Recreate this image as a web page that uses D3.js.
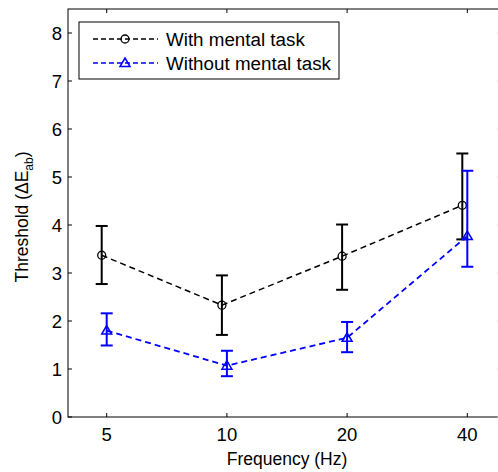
<!DOCTYPE html>
<html>
<head>
<meta charset="utf-8">
<script src="https://cdn.jsdelivr.net/npm/d3@7"></script>
<style>
  body { margin: 0; background: #fff; }
  svg { display: block; font-family: "Liberation Sans", Arial, sans-serif; }
</style>
</head>
<body>
<svg id="chart"></svg>
<script>
const width = 498;
const height = 472;

// data
const freqs = [5, 10, 20, 40];
const withTask = [3.37, 2.33, 3.35, 4.41];
const withLo = [2.77, 1.71, 2.65, 3.70];
const withHi = [3.98, 2.95, 4.01, 5.49];
const withoutTask = [1.80, 1.07, 1.65, 3.77];
const withoutLo = [1.49, 0.85, 1.35, 3.13];
const withoutHi = [2.16, 1.38, 1.98, 5.13];
const yTicks = [0, 1, 2, 3, 4, 5, 6, 7, 8];

const series = [
  { name: "With mental task", mean: withTask, lo: withLo, hi: withHi, color: "#000", marker: "circle", dx: -5, lw: 1.5 },
  { name: "Without mental task", mean: withoutTask, lo: withoutLo, hi: withoutHi, color: "#0000ff", marker: "triangle", dx: 0, lw: 1.8 },
];

const plotL = 68, plotR = 506, plotT = 9, plotB = 417;

const x = d3.scaleLog().base(2).domain([4, 50]).range([plotL, plotR]);
const y = d3.scaleLinear().domain([0, 8.5]).range([plotB, plotT]);

const svg = d3.select("#chart").attr("width", width).attr("height", height);

// box
svg.append("rect")
  .attr("x", plotL).attr("y", plotT)
  .attr("width", plotR - plotL).attr("height", plotB - plotT)
  .attr("fill", "none").attr("stroke", "#000").attr("stroke-width", 1);

// inward ticks all round
const tk = 4;
const ticks = svg.append("g").attr("stroke", "#000").attr("stroke-width", 1);
freqs.forEach((f) => {
  ticks.append("line").attr("x1", x(f)).attr("x2", x(f)).attr("y1", plotB).attr("y2", plotB - tk);
  ticks.append("line").attr("x1", x(f)).attr("x2", x(f)).attr("y1", plotT).attr("y2", plotT + tk);
});
yTicks.forEach((t) => {
  ticks.append("line").attr("x1", plotL).attr("x2", plotL + tk).attr("y1", y(t)).attr("y2", y(t));
  ticks.append("line").attr("x1", plotR - 5).attr("x2", plotR - 5 - tk).attr("y1", y(t)).attr("y2", y(t)).attr("stroke", "#ccc");
});

// tick labels
svg.append("g").selectAll("text").data(freqs).join("text")
  .attr("x", (d) => x(d)).attr("y", 441)
  .attr("text-anchor", "middle").attr("font-size", 18.5)
  .text((d) => d);

svg.append("g").selectAll("text").data(yTicks).join("text")
  .attr("x", 62).attr("y", (d) => y(d) + 6.5)
  .attr("text-anchor", "end").attr("font-size", 18.5)
  .text((d) => d);

// axis labels
svg.append("text")
  .attr("x", 287).attr("y", 465)
  .attr("text-anchor", "middle").attr("font-size", 17.5)
  .text("Frequency (Hz)");

const yl = svg.append("text")
  .attr("transform", "translate(28,217) rotate(-90)")
  .attr("text-anchor", "middle").attr("font-size", 17.5);
yl.append("tspan").text("Threshold (\u0394E");
yl.append("tspan").attr("font-size", 12).attr("dy", 5).text("ab");
yl.append("tspan").attr("dy", -5).text(")");

function drawMarker(g, type, cx, cy, color) {
  if (type === "circle") {
    g.append("circle").attr("cx", cx).attr("cy", cy).attr("r", 4)
      .attr("fill", "none").attr("stroke", color).attr("stroke-width", 1.3);
  } else {
    const s = 5;
    g.append("path")
      .attr("d", `M${cx},${cy - s}L${cx + s},${cy + s * 0.7}L${cx - s},${cy + s * 0.7}Z`)
      .attr("fill", "none").attr("stroke", color).attr("stroke-width", 1.5);
  }
}

series.forEach((s) => {
  const g = svg.append("g");
  const px = (i) => x(freqs[i]) + s.dx;

  // error bars
  freqs.forEach((f, i) => {
    g.append("line").attr("x1", px(i)).attr("x2", px(i))
      .attr("y1", y(s.lo[i])).attr("y2", y(s.hi[i]))
      .attr("stroke", s.color).attr("stroke-width", 2);
    [s.lo[i], s.hi[i]].forEach((v) => {
      g.append("line").attr("x1", px(i) - 6).attr("x2", px(i) + 6)
        .attr("y1", y(v)).attr("y2", y(v))
        .attr("stroke", s.color).attr("stroke-width", 2);
    });
  });

  // dashed line
  const line = d3.line().x((d, i) => px(i)).y((d) => y(d));
  g.append("path").datum(s.mean).attr("d", line)
    .attr("fill", "none").attr("stroke", s.color)
    .attr("stroke-width", s.lw).attr("stroke-dasharray", "6,4");

  s.mean.forEach((v, i) => drawMarker(g, s.marker, px(i), y(v), s.color));
});

// legend
const lg = svg.append("g");
lg.append("rect").attr("x", 79).attr("y", 22).attr("width", 260).attr("height", 57)
  .attr("fill", "#fff").attr("stroke", "#000").attr("stroke-width", 1);
series.forEach((s, i) => {
  const ly = 39 + i * 24;
  lg.append("line").attr("x1", 93).attr("x2", 158).attr("y1", ly).attr("y2", ly)
    .attr("stroke", s.color).attr("stroke-width", 1.3).attr("stroke-dasharray", "5,3");
  drawMarker(lg, s.marker, 125, ly, s.color);
  lg.append("text").attr("x", 166).attr("y", ly + 6.5).attr("font-size", 18.8).text(s.name);
});
</script>
</body>
</html>
